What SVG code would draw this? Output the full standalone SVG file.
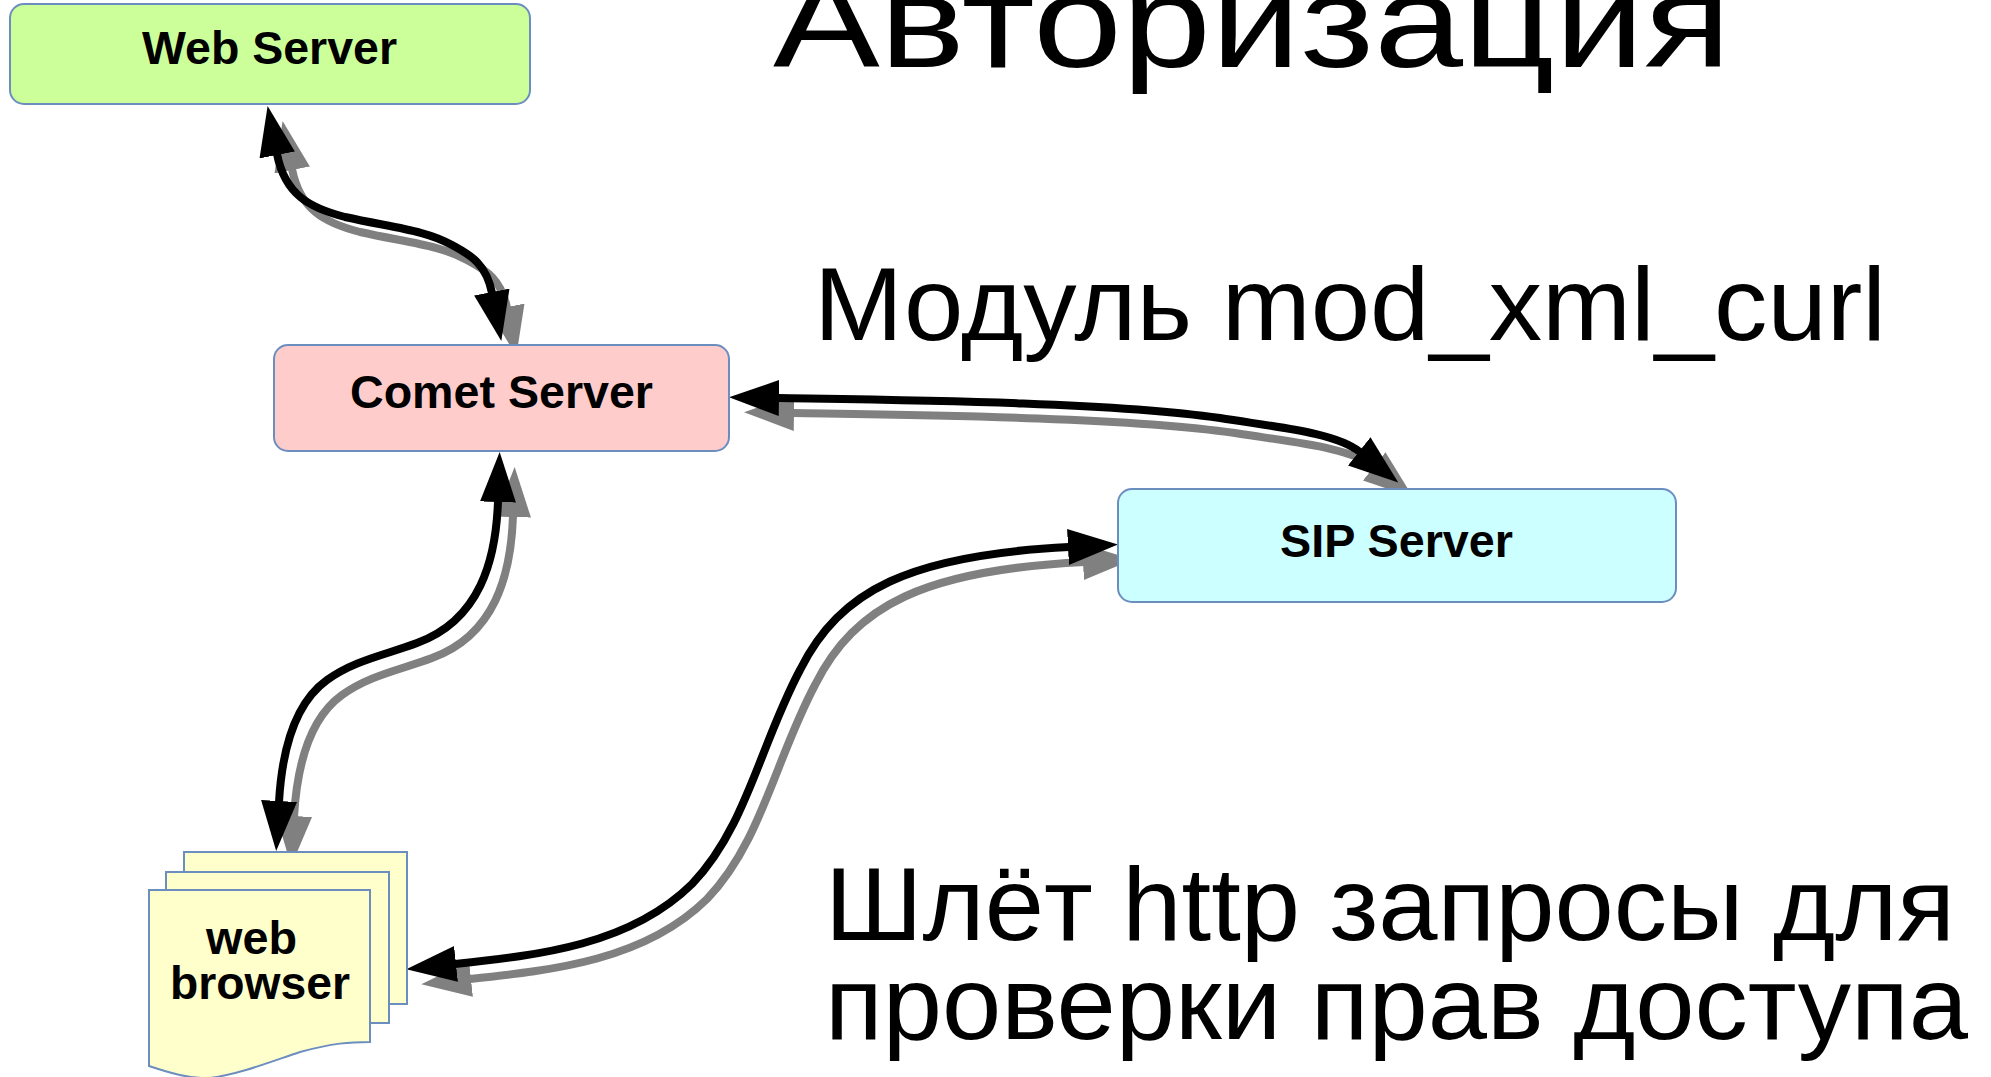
<svg xmlns="http://www.w3.org/2000/svg" width="1991" height="1077" viewBox="0 0 1991 1077">
<style>
.box{stroke:#6c8ebf;stroke-width:2}
.doc{fill:#ffffcc;stroke:#6c8ebf;stroke-width:2}
.lbl{font-family:"Liberation Sans",Arial,sans-serif;font-weight:bold;font-size:47px;fill:#000}
.big{font-family:"Liberation Sans",Arial,sans-serif;fill:#000}
.blk{fill:none;stroke:#000;stroke-width:8}
.gry{fill:none;stroke:#808080;stroke-width:8}
</style>
<defs>
<marker id="hb" markerUnits="userSpaceOnUse" markerWidth="52" markerHeight="38" refX="1" refY="19" orient="auto-start-reverse"><path d="M0,1 L50,19 L0,37 Z" fill="#000"/></marker>
<marker id="hg" markerUnits="userSpaceOnUse" markerWidth="52" markerHeight="38" refX="1" refY="19" orient="auto-start-reverse"><path d="M0,1 L50,19 L0,37 Z" fill="#808080"/></marker>
</defs>
<rect width="1991" height="1077" fill="#fff"/>
<g id="connectors">
<g transform="translate(15,15)">
<path class="gry" marker-start="url(#hg)" marker-end="url(#hg)" d="M277,154 C285,195 310,208 345,217 C395,228 425,230 452,245 C468,254 486,262 492,293"/>
<path class="gry" marker-start="url(#hg)" marker-end="url(#hg)" d="M498,501 C496,560 480,620 417,643 C385,655 355,660 327,680 C295,703 282,750 279,802"/>
<path class="gry" marker-start="url(#hg)" marker-end="url(#hg)" d="M778,398 C900,400 1110,402 1220,418 C1275,427 1335,432 1360,452"/>
<path class="gry" marker-start="url(#hg)" marker-end="url(#hg)" d="M455,964 C540,955 630,945 692,884 C746,828 760,745 800,670 C840,590 910,555 1069,547"/>
</g>
<path class="blk" marker-start="url(#hb)" marker-end="url(#hb)" d="M277,154 C285,195 310,208 345,217 C395,228 425,230 452,245 C468,254 486,262 492,293"/>
<path class="blk" marker-start="url(#hb)" marker-end="url(#hb)" d="M498,501 C496,560 480,620 417,643 C385,655 355,660 327,680 C295,703 282,750 279,802"/>
<path class="blk" marker-start="url(#hb)" marker-end="url(#hb)" d="M778,398 C900,400 1110,402 1220,418 C1275,427 1335,432 1360,452"/>
<path class="blk" marker-start="url(#hb)" marker-end="url(#hb)" d="M455,964 C540,955 630,945 692,884 C746,828 760,745 800,670 C840,590 910,555 1069,547"/>
</g>
<g id="web-server">
<rect class="box" x="10" y="4" width="520" height="100" rx="14" fill="#ccff99"/>
<text class="lbl" x="142" y="64" textLength="255" lengthAdjust="spacingAndGlyphs">Web Server</text>
</g>
<g id="comet-server">
<rect class="box" x="274" y="345" width="455" height="106" rx="14" fill="#ffcccc"/>
<text class="lbl" x="350" y="408" textLength="303" lengthAdjust="spacingAndGlyphs">Comet Server</text>
</g>
<g id="sip-server">
<rect class="box" x="1118" y="489" width="558" height="113" rx="14" fill="#ccffff"/>
<text class="lbl" x="1280" y="557" textLength="233" lengthAdjust="spacingAndGlyphs">SIP Server</text>
</g>
<g id="web-browser">
<rect class="doc" x="184" y="852" width="223" height="152"/>
<rect class="doc" x="166" y="872" width="223" height="151"/>
<path class="doc" d="M149,890 H370 V1042 C350,1042 333,1043 300,1052 C270,1062 240,1074 210,1078 C190,1079 170,1073 149,1066 Z"/>
<text class="lbl" x="206" y="954" textLength="91" lengthAdjust="spacingAndGlyphs">web</text>
<text class="lbl" x="170" y="999" textLength="180" lengthAdjust="spacingAndGlyphs">browser</text>
</g>
<text class="big" x="773" y="67" font-size="132" textLength="958" lengthAdjust="spacingAndGlyphs">Авторизация</text>
<text class="big" x="814" y="340" font-size="104" textLength="1072" lengthAdjust="spacingAndGlyphs">Модуль mod_xml_curl</text>
<text class="big" x="825" y="940" font-size="104" textLength="1130" lengthAdjust="spacingAndGlyphs">Шлёт http запросы для</text>
<text class="big" x="825" y="1039" font-size="104" textLength="1143" lengthAdjust="spacingAndGlyphs">проверки прав доступа</text>
</svg>
